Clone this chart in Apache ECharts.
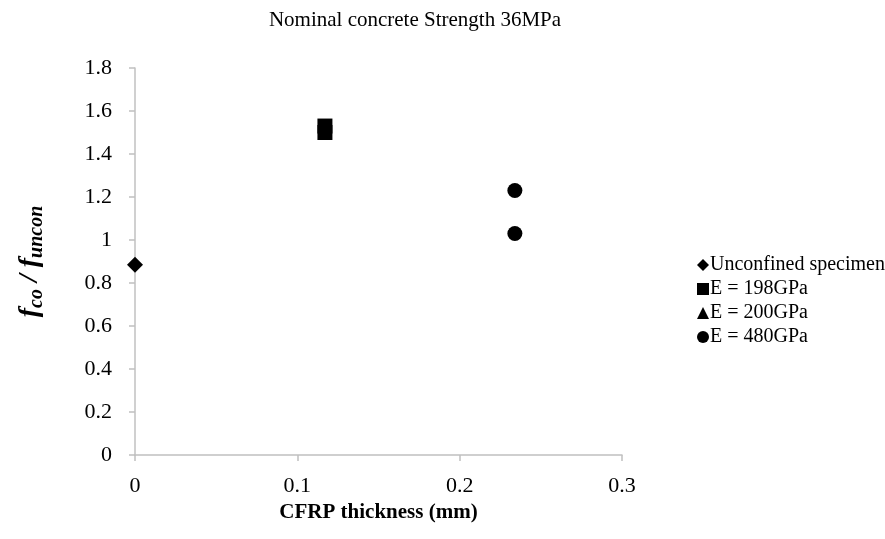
<!DOCTYPE html>
<html>
<head>
<meta charset="utf-8">
<script src="https://cdn.jsdelivr.net/npm/echarts@6/dist/echarts.min.js"></script>
<style>
  html, body { margin: 0; padding: 0; background: #fff; }
  #chart { width: 885px; height: 539px; }
</style>
</head>
<body>
<div id="chart"></div>
<script>
// data
const xTicks = [0, 0.1, 0.2, 0.3];
const yTicks = [0, 0.2, 0.4, 0.6, 0.8, 1, 1.2, 1.4, 1.6, 1.8];

const unconfinedX = [0];
const unconfinedY = [0.885];
const e198X = [0.117, 0.117];
const e198Y = [1.53, 1.50];
const e200X = [0.117];
const e200Y = [1.51];
const e480X = [0.234, 0.234];
const e480Y = [1.23, 1.03];

const FONT = '"Liberation Serif", "Times New Roman", serif';

const pairs = (xs, ys) => xs.map((x, i) => [x, ys[i]]);
const mark = { color: '#000', opacity: 1 };

const chart = echarts.init(document.getElementById('chart'));

chart.setOption({
  animation: false,
  title: {
    text: 'Nominal concrete Strength 36MPa',
    left: 410, top: 5, textAlign: 'center',
    textStyle: { fontFamily: FONT, fontSize: 21, fontWeight: 'normal', color: '#000' }
  },
  grid: { left: 135, right: 263, top: 68, bottom: 84 },
  legend: {
    orient: 'vertical',
    left: 692, top: 250,
    itemWidth: 12, itemHeight: 12, itemGap: 4,
    textStyle: { fontFamily: FONT, fontSize: 20, color: '#000', padding: [0, 0, 0, -4] },
    data: ['Unconfined specimen', 'E = 198GPa', 'E = 200GPa', 'E = 480GPa']
  },
  xAxis: {
    type: 'value', min: xTicks[0], max: xTicks[xTicks.length - 1], interval: 0.1,
    name: 'CFRP thickness (mm)', nameLocation: 'middle', nameGap: 47,
    nameTextStyle: { fontFamily: FONT, fontSize: 21, fontWeight: 'bold', color: '#000' },
    axisLine: { lineStyle: { color: '#C0C0C0', width: 1.5 } },
    axisTick: { show: true, length: 6, lineStyle: { color: '#C0C0C0', width: 1.5 } },
    axisLabel: { fontFamily: FONT, fontSize: 22, color: '#000', margin: 20 },
    splitLine: { show: false }
  },
  yAxis: {
    type: 'value', min: yTicks[0], max: yTicks[yTicks.length - 1], interval: 0.2,
    name: '{f|f}{s|co}{f| / f}{s|uncon}', nameLocation: 'middle', nameGap: 88, nameRotate: 90,
    nameTextStyle: {
      rich: {
        f: { fontFamily: FONT, fontSize: 28, fontStyle: 'italic', fontWeight: 'bold', color: '#000', lineHeight: 34 },
        s: { fontFamily: FONT, fontSize: 20, fontStyle: 'italic', fontWeight: 'bold', color: '#000', verticalAlign: 'bottom' }
      }
    },
    axisLine: { show: true, lineStyle: { color: '#C0C0C0', width: 1.5 } },
    axisTick: { show: true, length: 6, lineStyle: { color: '#C0C0C0', width: 1.5 } },
    axisLabel: { fontFamily: FONT, fontSize: 22, color: '#000', margin: 23 },
    splitLine: { show: false }
  },
  series: [
    { name: 'Unconfined specimen', type: 'scatter', symbol: 'diamond', symbolSize: 16, z: 3,
      itemStyle: mark, data: pairs(unconfinedX, unconfinedY) },
    { name: 'E = 198GPa', type: 'scatter', symbol: 'rect', symbolSize: 15, z: 3,
      itemStyle: mark, data: pairs(e198X, e198Y) },
    { name: 'E = 200GPa', type: 'scatter', symbol: 'triangle', symbolSize: 14, z: 2,
      itemStyle: mark, data: pairs(e200X, e200Y) },
    { name: 'E = 480GPa', type: 'scatter', symbol: 'circle', symbolSize: 15, z: 3,
      itemStyle: mark, data: pairs(e480X, e480Y) }
  ]
});
</script>
</body>
</html>
